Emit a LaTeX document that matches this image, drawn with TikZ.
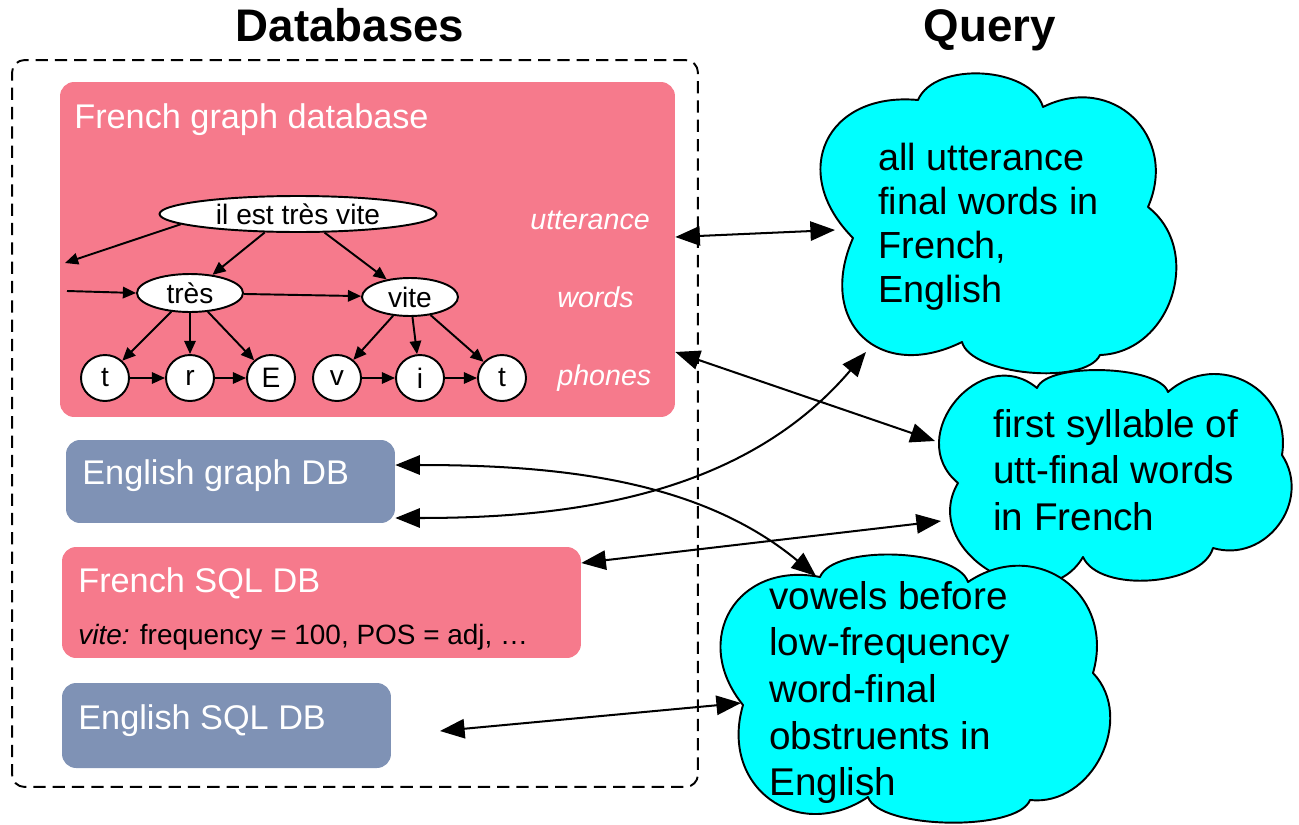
\documentclass[tikz,border=0pt]{standalone}
\usepackage{fontspec}
\setmainfont{Liberation Sans}
\usetikzlibrary{shapes.geometric,arrows.meta,calc}
\definecolor{fpink}{RGB}{246,122,140}
\definecolor{eblue}{RGB}{127,146,181}
\definecolor{qcyan}{RGB}{0,255,255}
\begin{document}
\begin{tikzpicture}[x=0.02cm,y=-0.02cm,
  dbbox/.style={rounded corners=8pt, draw=none, inner sep=0, minimum width=#1},
  frbox/.style={dbbox=#1, fill=fpink},
  enbox/.style={dbbox=#1, fill=eblue},
  lbl/.style={text=white, inner sep=0, font=\fontsize{19.5}{23}\selectfont},
  lvl/.style={text=white, inner sep=0, font=\itshape\fontsize{16.3}{19}\selectfont},
  gnode/.style={ellipse, draw, fill=white, line width=1.1pt, inner sep=0, font=\fontsize{16}{19}\selectfont},
  gcirc/.style={gnode, minimum width=0.96cm, minimum height=0.92cm},
  garr/.style={-{Triangle[length=7.5pt,width=6.5pt]}, line width=1.1pt},
  barr/.style={{Triangle[length=14pt,width=11pt]}-{Triangle[length=14pt,width=11pt]}, line width=1.15pt},
  qcloud/.style={draw, fill=qcyan, line width=1.1pt, line join=round},
  cpuff/.style={bend left=70, looseness=#1},
  rpuff/.style={bend left=90, looseness=#1},
  qtext/.style={inner sep=0, align=left, anchor=north west, font=\fontsize{22}{26.5}\selectfont},
  title/.style={inner sep=0, anchor=base, font=\bfseries\fontsize{26}{30}\selectfont}]
\useasboundingbox (0,0) rectangle (1299,825);

% titles
\node[title] (dbt) at (350,41) {Databases};
\node[title] (qt) at (990,41) {Query};

% dashed frame
\node[draw, dash pattern=on 7pt off 4pt, line width=1.1pt, rounded corners=7pt,
  minimum width=13.72cm, minimum height=14.54cm, inner sep=0] (frame) at (355,423.5) {};

% database boxes
\node[frbox=12.3cm, minimum height=6.7cm] (fgdb) at (367.5,249.5) {};
\node[enbox=6.58cm, minimum height=1.66cm] (egdb) at (230.5,481.5) {};
\node[frbox=10.38cm, minimum height=2.22cm] (fsql) at (321.5,602.5) {};
\node[enbox=6.58cm, minimum height=1.7cm] (esql) at (226.5,725.5) {};

\node[lbl, anchor=base west] (fgdbt) at (74,128) {French graph database};
\node[lbl, anchor=base west] (egdbt) at (82,484) {English graph DB};
\node[lbl, anchor=base west] (fsqlt) at (78,592) {French SQL DB};
\node[inner sep=0, anchor=base west, font=\fontsize{15.9}{18}\selectfont] (fsqlv) at (78,644) {\textit{vite:} frequency = 100, POS = adj, …};
\node[lbl, anchor=base west] (esqlt) at (78,729) {English SQL DB};

% level labels
\node[lvl, anchor=base west] (lu) at (530,229) {utterance};
\node[lvl, anchor=base west] (lw) at (557,307) {words};
\node[lvl, anchor=base west] (lp) at (557,385) {phones};

% graph
\node[gnode, minimum width=5.54cm, minimum height=0.72cm] (utt) at (298,214) {il est très vite};
\node[gnode, minimum width=2.12cm, minimum height=0.76cm] (tres) at (190,293) {très};
\node[gnode, minimum width=1.92cm, minimum height=0.76cm] (vite) at (410,297) {vite};
\node[gcirc] (t1) at (105,378) {t};
\node[gcirc] (r) at (190,378) {r};
\node[gcirc] (E) at (271,378) {E};
\node[gcirc] (v) at (337,378) {v};
\node[gcirc] (i) at (420,378) {i};
\node[gcirc] (t2) at (502,378) {t};
\coordinate (uttL) at (65,263);
\coordinate (wL) at (67,291);

\draw[garr] (utt.185) -- (uttL);
\draw[garr] (wL) -- (tres.west);
\draw[garr] (utt.209) -- (tres);
\draw[garr] (utt.325) -- (vite);
\draw[garr] (tres) -- (vite);
\draw[garr] (tres) -- (t1);
\draw[garr] (tres) -- (r);
\draw[garr] (tres) -- (E);
\draw[garr] (vite) -- (v);
\draw[garr] (vite) -- (i);
\draw[garr] (vite) -- (t2);
\draw[garr] (t1) -- (r);
\draw[garr] (r) -- (E);
\draw[garr] (v) -- (i);
\draw[garr] (i) -- (t2);

% clouds (drawn directly)
\draw[qcloud] (853,238) to[cpuff=1.55] (918,100) to[cpuff=0.87] (1043,107) to[cpuff=1.37] (1148,207)
  to[cpuff=1.17] (1100,355) to[cpuff=0.63] (962,342) to[cpuff=1.56] cycle;
\draw[qcloud] (958,483) to[rpuff=1.5] (1037,388) to[cpuff=0.55] (1168,392) to[cpuff=1.3] (1282,455)
  to[cpuff=1.22] (1213,548) to[cpuff=0.78] (1083,557) to[rpuff=1.4] cycle;
\draw[qcloud] (743,705) to[cpuff=1.45] (820,577) to[cpuff=0.61] (968,582) to[cpuff=1.36] (1093,673)
  to[cpuff=1.13] (1030,800) to[cpuff=0.54] (868,797) to[cpuff=1.4] cycle;

\node[qtext, font=\fontsize{21.5}{25}\selectfont] (c1t) at (878,143) {all utterance\\final words in\\French,\\English};
\node[qtext] (c2t) at (993,409) {first syllable of\\utt-final words\\in French};
\node[qtext] (c3t) at (769,581) {vowels before\\low-frequency\\word-final\\obstruents in\\English};

% connector ends on the clouds
\coordinate (c1a) at (835,230);
\coordinate (c1c) at (866,352);
\coordinate (c2b) at (935,441);
\coordinate (c2e) at (941,521);
\coordinate (c3d) at (816,576);
\coordinate (c3f) at (741,703);
\coordinate (esqlR) at (440,731);

% connectors
\draw[barr] ([yshift=0.25cm]fgdb.east) -- (c1a);
\draw[barr] ([yshift=-2.05cm]fgdb.east) -- (c2b);
\draw[barr] ([yshift=-0.73cm]egdb.east) .. controls (560,518) and (740,500) .. (c1c);
\draw[barr] ([yshift=0.33cm]egdb.east) .. controls (560,465) and (700,480) .. (c3d);
\draw[barr] ([yshift=0.79cm]fsql.east) -- (c2e);
\draw[barr] (esqlR) -- (c3f);
\end{tikzpicture}
\end{document}
